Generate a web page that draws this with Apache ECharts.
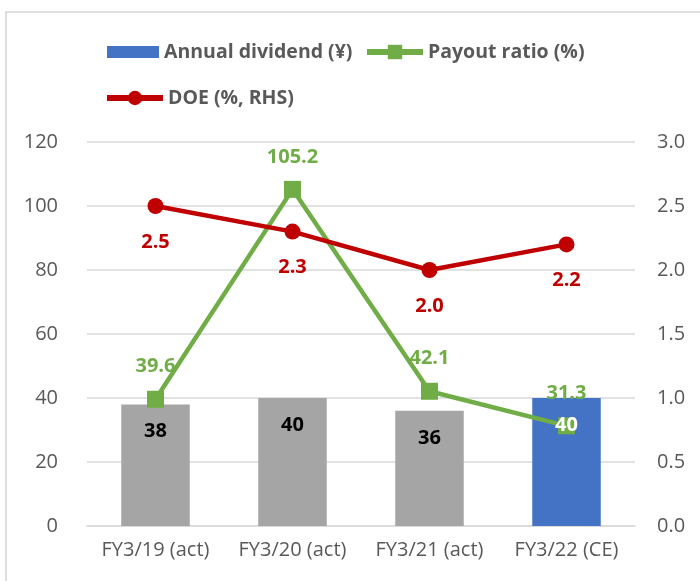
<!DOCTYPE html>
<html>
<head>
<meta charset="utf-8">
<script src="https://cdn.jsdelivr.net/npm/echarts@6/dist/echarts.min.js"></script>
<style>
  html, body { margin: 0; padding: 0; background: #fff; }
  #chart { width: 700px; height: 581px; }
</style>
</head>
<body>
<div id="chart"></div>
<script>
const categories = ['FY3/19 (act)', 'FY3/20 (act)', 'FY3/21 (act)', 'FY3/22 (CE)'];
const dividend = [38, 40, 36, 40];
const payoutRatio = [39.6, 105.2, 42.1, 31.3];
const doe = [2.5, 2.3, 2.0, 2.2];
const leftTicks = { min: 0, max: 120, interval: 20 };
const rightTicks = { min: 0, max: 3, interval: 0.5 };

const font = "'Open Sans', 'Liberation Sans', sans-serif";
const gray = '#595959';
const lastIdx = dividend.length - 1;

const legendText = { color: gray, fontWeight: 'bold', fontSize: 19.5, fontFamily: font };

const chart = echarts.init(document.getElementById('chart'));

const option = {
  animation: false,
  textStyle: { fontFamily: font },
  graphic: [{
    type: 'rect',
    shape: { x: 6, y: 12, width: 800, height: 700 },
    style: { fill: 'none', stroke: '#d4d4d4', lineWidth: 1.5 },
    silent: true
  }],
  legend: [
    {
      left: 107, top: 42, padding: 0,
      itemWidth: 52, itemHeight: 12, itemTextGap: 5,
      icon: 'rect',
      data: ['Annual dividend (¥)'],
      textStyle: legendText
    },
    {
      left: 364, top: 42, padding: 0,
      itemWidth: 56, itemHeight: 18, itemTextGap: 4,
      data: ['Payout ratio (%)'],
      lineStyle: { width: 6 },
      textStyle: legendText
    },
    {
      left: 104, top: 88, padding: 0,
      itemWidth: 56, itemHeight: 18, itemTextGap: 4,
      data: ['DOE (%, RHS)'],
      lineStyle: { width: 6 },
      textStyle: legendText
    }
  ],
  grid: { left: 87, right: 65, top: 142, bottom: 55 },
  xAxis: {
    type: 'category',
    data: categories,
    axisTick: { show: false },
    axisLine: { lineStyle: { color: '#d9d9d9', width: 1.5 } },
    axisLabel: { color: gray, fontSize: 20, margin: 14, interval: 0, fontFamily: font }
  },
  yAxis: [
    {
      type: 'value',
      min: leftTicks.min, max: leftTicks.max, interval: leftTicks.interval,
      axisLine: { show: false },
      axisTick: { show: false },
      splitLine: { lineStyle: { color: '#d9d9d9', width: 1.5 } },
      axisLabel: { color: gray, fontSize: 20, margin: 29, fontFamily: font }
    },
    {
      type: 'value',
      min: rightTicks.min, max: rightTicks.max, interval: rightTicks.interval,
      axisLine: { show: false },
      axisTick: { show: false },
      splitLine: { show: false },
      axisLabel: {
        color: gray, fontSize: 20, margin: 22, fontFamily: font,
        formatter: v => v.toFixed(1)
      }
    }
  ],
  series: [
    {
      name: 'Annual dividend (¥)',
      type: 'bar',
      barWidth: '50%',
      itemStyle: { color: '#4472c4' },
      data: dividend.map((v, i) => ({
        value: v,
        itemStyle: { color: i === lastIdx ? '#4472c4' : '#a5a5a5' }
      })),
      z: 1
    },
    {
      name: 'Payout ratio (%)',
      type: 'line',
      data: payoutRatio,
      symbol: 'rect',
      symbolSize: 17,
      itemStyle: { color: '#70ad47' },
      lineStyle: { color: '#70ad47', width: 4.5 },
      label: {
        show: true,
        position: 'top',
        distance: 14,
        color: '#70ad47',
        fontSize: 20,
        fontWeight: 'bold',
        fontFamily: font,
        formatter: p => p.value.toFixed(1)
      },
      z: 3
    },
    {
      name: 'DOE (%, RHS)',
      type: 'line',
      yAxisIndex: 1,
      data: doe,
      symbol: 'circle',
      symbolSize: 16,
      itemStyle: { color: '#c00000' },
      lineStyle: { color: '#c00000', width: 4.5 },
      label: {
        show: true,
        position: 'bottom',
        distance: 18,
        color: '#c00000',
        fontSize: 20,
        fontWeight: 'bold',
        fontFamily: font,
        formatter: p => p.value.toFixed(1)
      },
      z: 4
    },
    {
      // label layer for the dividend bars, drawn above the lines
      name: 'dividend labels',
      type: 'bar',
      barWidth: '50%',
      barGap: '-100%',
      silent: true,
      itemStyle: { color: 'rgba(0,0,0,0)' },
      data: dividend.map((v, i) => ({
        value: v,
        label: { color: i === lastIdx ? '#ffffff' : '#000000' }
      })),
      label: {
        show: true,
        position: 'insideTop',
        distance: 17,
        fontSize: 20,
        fontWeight: 'bold',
        fontFamily: font
      },
      z: 10
    }
  ]
};

chart.setOption(option);
new ResizeObserver(() => chart.resize()).observe(document.getElementById('chart'));
</script>
</body>
</html>
